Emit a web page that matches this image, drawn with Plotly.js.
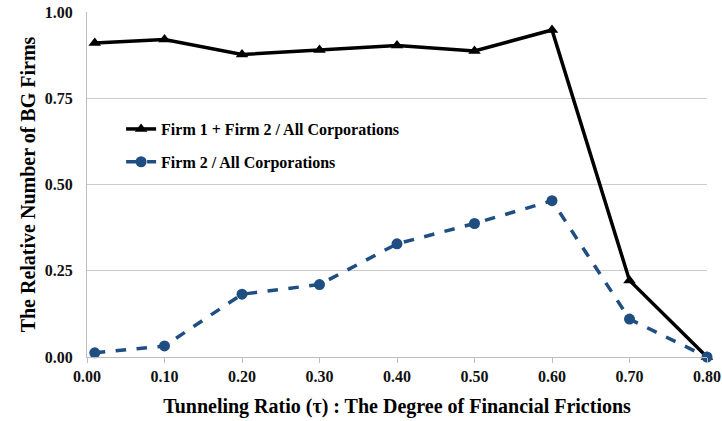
<!DOCTYPE html>
<html>
<head>
<meta charset="utf-8">
<script src="https://cdn.plot.ly/plotly-3.0.1.min.js"></script>
<style>html,body{margin:0;padding:0;background:#fff;}#chart{width:722px;height:421px;}</style>
</head>
<body>
<div id="chart"></div>
<script>
const tau = [0.01, 0.10, 0.20, 0.30, 0.40, 0.50, 0.60, 0.70, 0.80];
const firm12 = [0.910, 0.920, 0.877, 0.890, 0.903, 0.887, 0.948, 0.222, 0.0];
const firm2 = [0.012, 0.032, 0.182, 0.210, 0.328, 0.387, 0.453, 0.110, 0.0];
const xTicks = [0, 0.1, 0.2, 0.3, 0.4, 0.5, 0.6, 0.7, 0.8];
const xTickText = ["0.00","0.10","0.20","0.30","0.40","0.50","0.60","0.70","0.80"];
const yTicks = [0, 0.25, 0.5, 0.75, 1.0];
const yTickText = ["0.00","0.25","0.50","0.75","1.00"];
const names = ["Firm 1 + Firm 2 / All Corporations", "Firm 2 / All Corporations"];

const font = "Liberation Serif, Times New Roman, serif";
const traces = [
  {x: tau, y: firm12, name: names[0], legendgroup: "a", mode: "lines+markers", cliponaxis: false,
   line: {color: "#000000", width: 3.5},
   marker: {symbol: "triangle-up", size: 11, color: "#000000"}},
  {x: tau, y: firm2, name: names[1], legendgroup: "b", mode: "lines+markers", cliponaxis: false,
   line: {color: "#1F4E82", width: 3.5, dash: "dash"},
   marker: {symbol: "circle", size: 11, color: "#1F4E82"}}
];
const layout = {
  width: 722, height: 421,
  margin: {l: 87, r: 15, t: 12, b: 64},
  paper_bgcolor: "#ffffff", plot_bgcolor: "#ffffff",
  font: {family: font, color: "#000000"},
  showlegend: true,
  legend: {x: 0.055, y: 0.71, xanchor: "left", yanchor: "top", bgcolor: "rgba(0,0,0,0)",
    font: {family: font, size: 16, weight: "bold", color: "#000000"}, tracegroupgap: 9,
    itemwidth: 30},
  xaxis: {range: [0, 0.8], tickvals: xTicks, ticktext: xTickText,
    showgrid: false, zeroline: false, showline: true, linecolor: "#bdbdbd", linewidth: 1,
    ticks: "outside", ticklen: 5, tickcolor: "#bdbdbd",
    tickfont: {family: font, size: 16, weight: "bold", color: "#111111"},
    title: {text: "Tunneling Ratio (τ) : The Degree of Financial Frictions", standoff: 14,
      font: {family: font, size: 20, weight: "bold", color: "#000000"}}},
  yaxis: {range: [0, 1.0], tickvals: yTicks, ticktext: yTickText,
    showgrid: true, gridcolor: "#cccccc", gridwidth: 1, zeroline: false,
    showline: true, linecolor: "#bdbdbd", linewidth: 1, ticks: "outside", ticklen: 10, tickcolor: "rgba(0,0,0,0)",
    tickfont: {family: font, size: 16, weight: "bold", color: "#111111"},
    title: {text: "The Relative Number of BG Firms", standoff: 3,
      font: {family: font, size: 20, weight: "bold", color: "#000000"}}}
};
Plotly.newPlot("chart", traces, layout, {displayModeBar: false, staticPlot: true});
</script>
</body>
</html>
